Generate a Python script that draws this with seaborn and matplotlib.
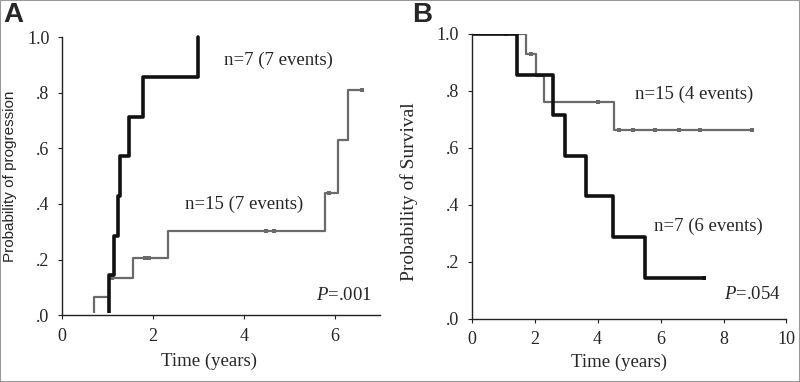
import seaborn as sns
import matplotlib.pyplot as plt
import pandas as pd
from matplotlib.patches import Rectangle

# Panel A - probability of progression
a_hi_time = [0, 1.04, 1.14, 1.24, 1.27, 1.47, 1.78, 2.99]
a_hi_prob = [0, .143, .286, .429, .571, .714, .857, 1.0]
a_lo_time = [0, 0.71, 1.03, 1.56, 2.33, 5.78, 6.08, 6.29, 6.61]
a_lo_prob = [0, .067, .133, .204, .303, .44, .63, .81, .81]
a_lo_cens_time = [1.1, 1.83, 1.92, 4.49, 4.67, 5.88, 6.61]
a_lo_cens_prob = [.133, .204, .204, .303, .303, .44, .81]

# Panel B - probability of survival
b_hi_time = [0, 1.43, 2.57, 2.96, 3.62, 4.49, 5.49, 7.37]
b_hi_prob = [1.0, .857, .714, .571, .429, .286, .143, .143]
b_hi_cens_time = [7.37]
b_hi_cens_prob = [.143]
b_lo_time = [0, 1.74, 2.03, 2.30, 4.51, 8.92]
b_lo_prob = [1.0, .929, .852, .762, .663, .663]
b_lo_cens_time = [1.08, 1.88, 4.0, 4.69, 5.13, 5.81, 6.58, 7.25, 8.92]
b_lo_cens_prob = [1.0, .929, .762, .663, .663, .663, .663, .663, .663]

ytick_vals = [0, .2, .4, .6, .8, 1.0]
ytick_labels = [".0", ".2", ".4", ".6", ".8", "1.0"]

sns.set_theme(style="ticks")
plt.rcParams["font.family"] = ["Liberation Serif", "DejaVu Serif"]
plt.rcParams["mathtext.fontset"] = "custom"
plt.rcParams["mathtext.it"] = "Liberation Serif:italic"
plt.rcParams["mathtext.rm"] = "Liberation Serif"

BLACK = "#111111"
GREY = "#6a6a6a"

fig = plt.figure(figsize=(8, 3.82), dpi=100)
axA = fig.add_axes([0.0775, 0.175, 0.3975, 0.728])
axB = fig.add_axes([0.5896, 0.166, 0.3935, 0.745])


def step(ax, t, p, color, lw):
    df = pd.DataFrame({"t": t, "p": p})
    sns.lineplot(data=df, x="t", y="p", ax=ax, color=color, lw=lw,
                 drawstyle="steps-post", estimator=None)


def marks(ax, t, p, color):
    df = pd.DataFrame({"t": t, "p": p})
    sns.scatterplot(data=df, x="t", y="p", ax=ax, color=color, marker="s",
                    s=9, linewidth=0)


step(axA, a_lo_time, a_lo_prob, GREY, 1.6)
marks(axA, a_lo_cens_time, a_lo_cens_prob, GREY)
step(axA, a_hi_time, a_hi_prob, BLACK, 2.6)

step(axB, b_lo_time, b_lo_prob, GREY, 1.6)
marks(axB, b_lo_cens_time, b_lo_cens_prob, GREY)
step(axB, b_hi_time, b_hi_prob, BLACK, 2.6)
marks(axB, b_hi_cens_time, b_hi_cens_prob, BLACK)

# keep the curves' zero baseline hidden behind the x axis
for ln in axA.lines:
    ln.set_clip_path(Rectangle((0, 0.008), 7.0, 1.2, transform=axA.transData))

for ax, xmax, xt in [(axA, 7.0, [0, 2, 4, 6]), (axB, 10.0, [0, 2, 4, 6, 8, 10])]:
    ax.set_xlim(0, xmax)
    ax.set_ylim(0, 1.0)
    ax.set_xticks(xt)
    ax.set_yticks(ytick_vals)
    ax.set_yticklabels(ytick_labels)
    ax.set_xlabel("Time (years)", fontsize=13.5)
    ax.tick_params(axis="both", labelsize=13, length=3, width=0.8,
                   color="#222222", pad=6)
    sns.despine(ax=ax)
    for s in ("left", "bottom"):
        ax.spines[s].set_linewidth(1.0)
        ax.spines[s].set_color("#222222")
    ax.set_facecolor("white")

axA.xaxis.set_label_coords(0.462, -0.135)
axB.xaxis.set_label_coords(0.468, -0.125)

axA.set_ylabel("Probability of progression", fontsize=11,
               family="Liberation Sans")
axA.yaxis.set_label_coords(-0.141, 0.5)
axB.set_ylabel("Probability of Survival", fontsize=14)
axB.yaxis.set_label_coords(-0.172, 0.445)

axA.text(3.56, 0.917, "n=7 (7 events)", fontsize=13.5, va="center")
axA.text(2.71, 0.40, "n=15 (7 events)", fontsize=13.5, va="center")
axA.text(5.6, 0.072, r"$P$=.001", fontsize=13.5, va="center")

axB.text(5.18, 0.788, "n=15 (4 events)", fontsize=13.5, va="center")
axB.text(5.79, 0.323, "n=7 (6 events)", fontsize=13.5, va="center")
axB.text(8.0, 0.083, r"$P$=.054", fontsize=13.5, va="center")

fig.text(0.004, 0.995, "A", fontsize=20, fontweight="bold",
         family="Liberation Sans", va="top", ha="left")
fig.text(0.515, 0.995, "B", fontsize=20, fontweight="bold",
         family="Liberation Sans", va="top", ha="left")

fig.patches.append(Rectangle((0, 0), 1, 1, transform=fig.transFigure,
                             fill=False, edgecolor="#9a9a9a", lw=1.5))

fig.savefig("out.png", dpi=100, facecolor="white")
